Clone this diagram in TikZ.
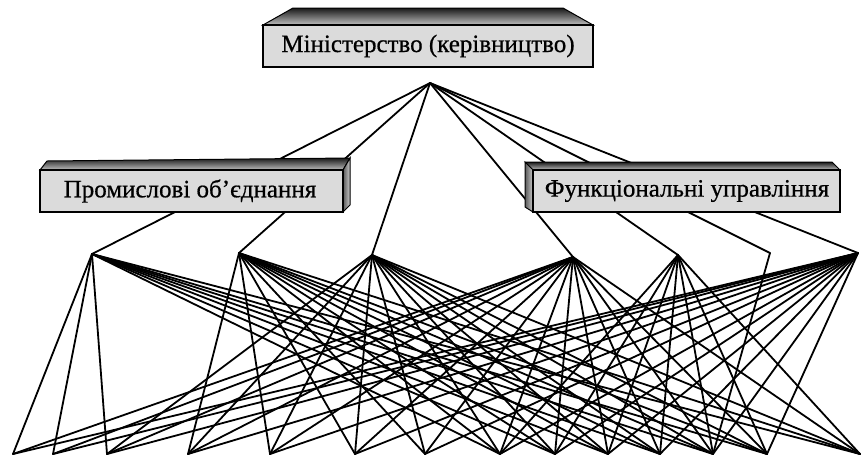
\documentclass[tikz,border=0pt]{standalone}
\usepackage{fontspec}
\setmainfont{Liberation Serif}
\newfontfamily\boxfont[FakeBold=0.6]{Liberation Serif}
\begin{document}
\begin{tikzpicture}[x=1pt,y=-1pt,
  link/.style={line width=1.8pt, black, line cap=round},
  front/.style={draw=black, line width=1.2pt, fill=black!14},
  topface/.style={draw=black, line width=1pt, top color=black!90, bottom color=black!25},
  sideface/.style={draw=black, line width=1pt, left color=black!65, right color=black!20},
  lbl/.style={font=\boxfont\fontsize{25}{25}\selectfont, inner sep=0pt}]
\useasboundingbox (0,0) rectangle (862,459);
\fill[white] (0,0) rectangle (862,459);
% points
\coordinate (top) at (430,83);
\coordinate (mA) at (92,254);
\coordinate (mB) at (239,253);
\coordinate (mC) at (372,255);
\coordinate (mD) at (573,257);
\coordinate (mE) at (678,255);
\coordinate (mF) at (770,253);
\coordinate (mG) at (858,253);
\foreach \x [count=\i] in {13,53,107,188,270,355,425,500,555,608,660,713,767,860}
  \coordinate (b\i) at (\x,454);
% links from the top
\foreach \m in {mA,mB,mC,mD,mE,mF,mG} \draw[link] (top) -- (\m);
% links to the bottom row
\foreach \b in {1,2,3,8,9,10,11,12,13,14} \draw[link] (mA) -- (b\b);
\foreach \b in {4,5,6,7,8,9,10,11,12,13,14} \draw[link] (mB) -- (b\b);
\foreach \b in {3,4,5,6,7,8,9,10,11,12,13,14} \draw[link] (mC) -- (b\b);
\foreach \b in {1,...,14} \draw[link] (mD) -- (b\b);
\foreach \b in {8,9,10,11,12,13,14} \draw[link] (mE) -- (b\b);
\draw[link] (mF) -- (b12);
\foreach \b in {1,...,13} \draw[link] (mG) -- (b\b);
% Ministry box
\shadedraw[topface] (263,25) -- (293,8) -- (563,8) -- (593,25) -- cycle;
\draw[front] (263,25) rectangle (593,67);
\node[lbl] (min) at (428,46) {Міністерство (керівництво)};
% Industrial associations box
\shadedraw[topface] (40,170) -- (47,161) -- (350,158) -- (343,170) -- cycle;
\shadedraw[sideface] (343,170) -- (350,158) -- (350,205) -- (343,212) -- cycle;
\draw[front] (40,170) rectangle (343,212);
\node[lbl] (ind) at (190,191) {Промислові об’єднання};
% Functional departments box
\shadedraw[topface] (525,162) -- (832,162) -- (840,170) -- (533,170) -- cycle;
\shadedraw[sideface] (525,162) -- (533,170) -- (533,212) -- (525,207) -- cycle;
\draw[front] (533,170) rectangle (840,212);
\node[lbl] (fun) at (687,191) {Функціональні управління};
\end{tikzpicture}
\end{document}
